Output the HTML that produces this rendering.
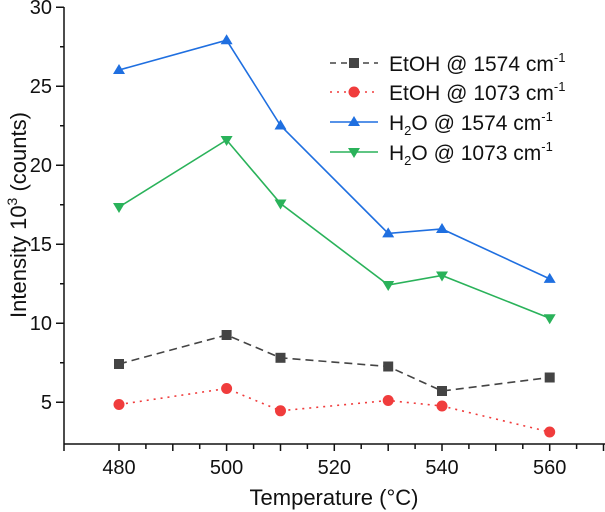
<!DOCTYPE html>
<html><head><style>body{margin:0;background:#fff}svg{display:block}text{font-family:"Liberation Sans",Arial,sans-serif;fill:#111}</style></head>
<body>
<svg width="605" height="512" viewBox="0 0 605 512" xmlns="http://www.w3.org/2000/svg">
<g stroke="#111" stroke-width="1.5" fill="none">
<line x1="64" y1="7" x2="64" y2="444"/>
<line x1="63.5" y1="444" x2="605" y2="444"/>
<path d="M56 7.3H64M56 86.3H64M56 165.3H64M56 244.3H64M56 323.3H64M56 402.3H64M60 46.8H64M60 125.8H64M60 204.8H64M60 283.8H64M60 362.8H64"/>
<path d="M64 444v7M119 444v7M145.9 444v5M172.8 444v7M199.7 444v5M226.6 444v7M253.6 444v5M280.5 444v7M307.4 444v5M334.3 444v7M361.2 444v5M388.2 444v7M415.1 444v5M442 444v7M468.9 444v5M495.8 444v7M522.8 444v5M549.7 444v7M576.6 444v5M603.5 444v7"/>
</g>
<g font-size="20" text-anchor="end">
<text x="52" y="14">30</text><text x="52" y="93">25</text><text x="52" y="172">20</text><text x="52" y="251">15</text><text x="52" y="330">10</text><text x="52" y="409">5</text>
</g>
<g font-size="20" text-anchor="middle">
<text x="119" y="474">480</text><text x="226.6" y="474">500</text><text x="334.3" y="474">520</text><text x="442" y="474">540</text><text x="549.7" y="474">560</text>
<text x="334" y="505" font-size="22">Temperature (°C)</text>
</g>
<text transform="translate(26,215) rotate(-90)" font-size="22" text-anchor="middle">Intensity 10<tspan dy="-9" font-size="14">3</tspan><tspan dy="9"> (counts)</tspan></text>
<polyline fill="none" stroke="#444" stroke-width="1.6" stroke-dasharray="8,5" points="119,364 226.6,335 280.5,357.8 388.2,366.5 442,391 549.7,377.5"/>
<g fill="#444"><rect x="114" y="359" width="10" height="10"/><rect x="221.6" y="330" width="10" height="10"/><rect x="275.5" y="352.8" width="10" height="10"/><rect x="383.2" y="361.5" width="10" height="10"/><rect x="437" y="386" width="10" height="10"/><rect x="544.7" y="372.5" width="10" height="10"/></g>
<polyline fill="none" stroke="#f03c3c" stroke-width="1.6" stroke-dasharray="2,5" points="119,404.5 226.6,388.5 280.5,410.8 388.2,400.5 442,406 549.7,432"/>
<g fill="#f03c3c"><circle cx="119" cy="404.5" r="5.5"/><circle cx="226.6" cy="388.5" r="5.5"/><circle cx="280.5" cy="410.8" r="5.5"/><circle cx="388.2" cy="400.5" r="5.5"/><circle cx="442" cy="406" r="5.5"/><circle cx="549.7" cy="432" r="5.5"/></g>
<polyline fill="none" stroke="#1f6fe0" stroke-width="1.6" points="119,70 226.6,40.2 280.5,125.5 388.2,233.4 442,229 549.7,278.9"/>
<g fill="#1f6fe0">
<path d="M119,64l6,10h-12z"/><path d="M226.6,34.2l6,10h-12z"/><path d="M280.5,119.5l6,10h-12z"/><path d="M388.2,227.4l6,10h-12z"/><path d="M442,223l6,10h-12z"/><path d="M549.7,272.9l6,10h-12z"/></g>
<polyline fill="none" stroke="#2ab25a" stroke-width="1.6" points="119,207 226.6,140 280.5,203.5 388.2,285 442,275.5 549.7,318.2"/>
<g fill="#2ab25a">
<path d="M119,213l6,-10h-12z"/><path d="M226.6,146l6,-10h-12z"/><path d="M280.5,209.5l6,-10h-12z"/><path d="M388.2,291l6,-10h-12z"/><path d="M442,281.5l6,-10h-12z"/><path d="M549.7,324.2l6,-10h-12z"/></g>
<line x1="330" y1="63" x2="378" y2="63" stroke="#444" stroke-width="1.6" stroke-dasharray="6,5"/><rect x="349" y="58" width="10" height="10" fill="#444"/>
<line x1="330" y1="92" x2="378" y2="92" stroke="#f03c3c" stroke-width="1.6" stroke-dasharray="2,5"/><circle cx="354" cy="92" r="5.5" fill="#f03c3c"/>
<line x1="330" y1="122" x2="378" y2="122" stroke="#1f6fe0" stroke-width="1.6"/><path d="M354,116l6,10h-12z" fill="#1f6fe0"/>
<line x1="330" y1="152" x2="378" y2="152" stroke="#2ab25a" stroke-width="1.6"/><path d="M354,158l6,-10h-12z" fill="#2ab25a"/>
<g font-size="21">
<text x="389" y="71">EtOH @ 1574 cm<tspan dy="-9" font-size="13">-1</tspan></text>
<text x="389" y="100">EtOH @ 1073 cm<tspan dy="-9" font-size="13">-1</tspan></text>
<text x="389" y="130">H<tspan dy="5" font-size="13">2</tspan><tspan dy="-5">O @ 1574 cm</tspan><tspan dy="-9" font-size="13">-1</tspan></text>
<text x="389" y="160">H<tspan dy="5" font-size="13">2</tspan><tspan dy="-5">O @ 1073 cm</tspan><tspan dy="-9" font-size="13">-1</tspan></text>
</g>
</svg>
</body></html>
